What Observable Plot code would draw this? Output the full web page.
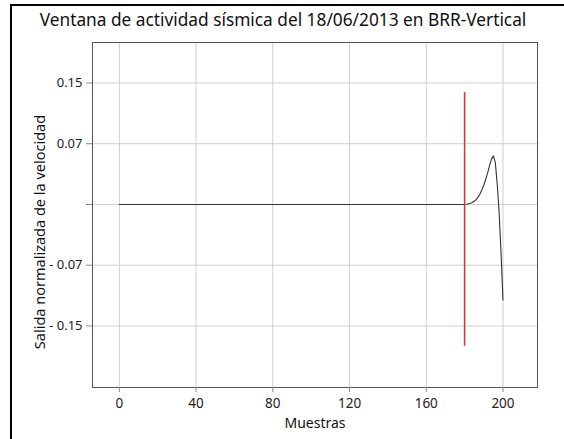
<!DOCTYPE html>
<html><head><meta charset="utf-8">
<script src="https://cdn.jsdelivr.net/npm/d3@7"></script>
<script src="https://cdn.jsdelivr.net/npm/@observablehq/plot@0.6"></script>
<style>
body{margin:0;background:#fff;}
#wrap{position:relative;width:564px;height:439px;overflow:hidden;font-family:"Noto Sans",sans-serif;}
#border{position:absolute;left:10px;top:4px;width:600px;height:600px;border:2px solid #000;box-sizing:border-box;}
#wrap svg{position:absolute;left:0;top:0;}
</style></head><body><div id="wrap"><div id="border"></div></div>
<script>
const title = "Ventana de actividad sísmica del 18/06/2013 en BRR-Vertical";
const xLabel = "Muestras";
const yLabel = "Salida normalizada de la velocidad";
const xTicks = [0, 40, 80, 120, 160, 200];
const yTicks = [0.15, 0.075, 0, -0.075, -0.15];
const yTickLabels = ["0.15", "0.07", "", "- 0.07", "- 0.15"];
const samples = [0, 180, 181, 182, 183, 184, 185, 186, 187, 188, 189, 190, 191, 192, 193, 194, 195, 196, 197, 198, 199, 200];
const values  = [0, 0, 0.0003, 0.0008, 0.0015, 0.0025, 0.004, 0.006, 0.009, 0.013, 0.018, 0.024, 0.031, 0.039, 0.048, 0.056, 0.060, 0.052, 0.025, -0.010, -0.060, -0.118];
const markerSample = [180];
const markerLow = -0.175;
const markerHigh = 0.138;

const signal = samples.map((s, i) => ({x: s, y: values[i]}));
const tickLabelMap = new Map(yTicks.map((t, i) => [t, yTickLabels[i]]));

const chart = Plot.plot({
  width: 564,
  height: 439,
  marginLeft: 92,
  marginRight: 27,
  marginTop: 42,
  marginBottom: 52,
  style: {fontFamily: "Noto Sans, sans-serif", fontSize: "12px", color: "#222", background: "transparent"},
  x: {domain: [-14, 218], ticks: xTicks, label: null},
  y: {domain: [-0.226, 0.2], ticks: yTicks, label: null},
  marks: [
    Plot.gridX(xTicks, {stroke: "#cfcfcf", strokeOpacity: 1}),
    Plot.gridY(yTicks, {stroke: "#cfcfcf", strokeOpacity: 1}),
    Plot.frame({stroke: "#555"}),
    Plot.axisX(xTicks, {tickSize: 5, tickPadding: 6, stroke: "#888", fontSize: 13.5, label: null}),
    Plot.axisY(yTicks, {tickSize: 6, tickPadding: 4, stroke: "#888", fontSize: 13, label: null, tickFormat: d => tickLabelMap.get(d)}),
    Plot.line(signal, {x: "x", y: "y", stroke: "#333", strokeWidth: 1.1}),
    Plot.ruleX(markerSample, {y1: markerLow, y2: markerHigh, stroke: "#d03a3a", strokeWidth: 1.6}),
    Plot.text([title], {frameAnchor: "top", textAnchor: "middle", lineAnchor: "middle", dx: -32, dy: -22, fontSize: 17.3, fill: "#111"}),
    Plot.text([xLabel], {frameAnchor: "bottom", textAnchor: "middle", lineAnchor: "middle", dy: 36, fontSize: 14, fill: "#111"}),
    Plot.text([yLabel], {frameAnchor: "left", textAnchor: "middle", lineAnchor: "middle", dx: -52, dy: 17, rotate: -90, fontSize: 14.5, fill: "#111"})
  ]
});
document.getElementById("wrap").appendChild(chart);
</script>
</body></html>
